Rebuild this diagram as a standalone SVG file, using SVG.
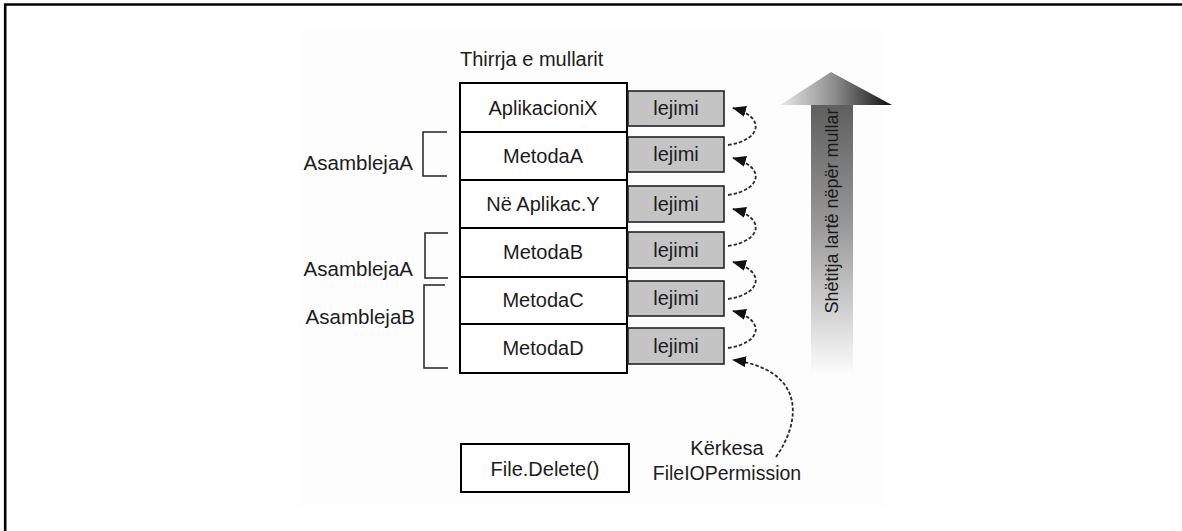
<svg xmlns="http://www.w3.org/2000/svg" width="1182" height="531" viewBox="0 0 1182 531">
  <defs>
    <style>
      text { font-family: "Liberation Sans", Arial, sans-serif; fill: #1c1c1c; }
      .lbl { font-size: 20px; text-anchor: middle; }
      .side { font-size: 20.5px; text-anchor: end; }
      .frame { fill: #fff; stroke: #000; stroke-width: 2; }
      .perm { fill: #c4c4c4; stroke: #222; stroke-width: 1.6; }
      .brace { fill: none; stroke: #222; stroke-width: 1.5; }
      .hop { fill: none; stroke: #2a2a2a; stroke-width: 1.8; stroke-dasharray: 3.5 2; marker-end: url(#tip); }
    </style>
    <marker id="tip" markerUnits="userSpaceOnUse" markerWidth="14" markerHeight="11" viewBox="0 0 14 11" refX="13" refY="5.5" orient="auto">
      <path d="M0,0 L14,5.5 L0,11 z" fill="#111"/>
    </marker>
    <linearGradient id="headFill" x1="780" y1="0" x2="892" y2="0" gradientUnits="userSpaceOnUse">
      <stop offset="0" stop-color="#e8e8e8"/>
      <stop offset="0.5" stop-color="#8a8a8a"/>
      <stop offset="1" stop-color="#0e0e0e"/>
    </linearGradient>
    <linearGradient id="shaftFill" x1="0" y1="104" x2="0" y2="372" gradientUnits="userSpaceOnUse">
      <stop offset="0" stop-color="#5e5e5e"/>
      <stop offset="0.45" stop-color="#989898"/>
      <stop offset="0.8" stop-color="#d6d6d6"/>
      <stop offset="1" stop-color="#fbfbfb"/>
    </linearGradient>
  </defs>

  <rect width="1182" height="531" fill="#fff"/>
  <!-- page frame: top and left edges -->
  <path d="M5.2,531 V4.5 H1182" fill="none" stroke="#000" stroke-width="2.6"/>
  <!-- faint backdrop behind the figure -->
  <rect x="299" y="30" width="586" height="478" fill="#fdfdfd"/>

  <text x="460" y="66" style="font-size:20px">Thirrja e mullarit</text>

  <!-- call stack frames -->
  <g id="frame-aplikacionix">
    <rect class="frame" x="460" y="83" width="167" height="49"/>
    <text class="lbl" x="543" y="115">AplikacioniX</text>
  </g>
  <g id="frame-metodaa">
    <rect class="frame" x="460" y="132" width="167" height="48"/>
    <text class="lbl" x="543" y="163">MetodaA</text>
  </g>
  <g id="frame-aplikacy">
    <rect class="frame" x="460" y="180" width="167" height="48"/>
    <text class="lbl" x="543" y="211">Në Aplikac.Y</text>
  </g>
  <g id="frame-metodab">
    <rect class="frame" x="460" y="228" width="167" height="49"/>
    <text class="lbl" x="543" y="259">MetodaB</text>
  </g>
  <g id="frame-metodac">
    <rect class="frame" x="460" y="277" width="167" height="47"/>
    <text class="lbl" x="543" y="307">MetodaC</text>
  </g>
  <g id="frame-metodad">
    <rect class="frame" x="460" y="324" width="167" height="49"/>
    <text class="lbl" x="543" y="355">MetodaD</text>
  </g>

  <!-- permission slots -->
  <g id="perm-1"><rect class="perm" x="628" y="91" width="96" height="35"/><text class="lbl" x="676" y="115">lejimi</text></g>
  <g id="perm-2"><rect class="perm" x="628" y="137" width="96" height="35"/><text class="lbl" x="676" y="161">lejimi</text></g>
  <g id="perm-3"><rect class="perm" x="628" y="186" width="96" height="36"/><text class="lbl" x="676" y="211">lejimi</text></g>
  <g id="perm-4"><rect class="perm" x="628" y="232" width="96" height="36"/><text class="lbl" x="676" y="257">lejimi</text></g>
  <g id="perm-5"><rect class="perm" x="628" y="281" width="96" height="35"/><text class="lbl" x="676" y="305">lejimi</text></g>
  <g id="perm-6"><rect class="perm" x="628" y="328" width="96" height="36"/><text class="lbl" x="676" y="353">lejimi</text></g>

  <!-- assembly groupings -->
  <g id="asm-a1">
    <path class="brace" d="M447,132 H423 V176 H447"/>
    <text class="side" x="413" y="170">AsamblejaA</text>
  </g>
  <g id="asm-a2">
    <path class="brace" d="M448,233 H425 V278 H448"/>
    <text class="side" x="413" y="276">AsamblejaA</text>
  </g>
  <g id="asm-b">
    <path class="brace" d="M445,285 H424 V368 H448"/>
    <text class="side" x="415" y="324">AsamblejaB</text>
  </g>

  <g id="file-delete">
    <rect class="frame" x="461" y="444" width="168" height="48" stroke-width="1.8"/>
    <text class="lbl" x="545" y="476">File.Delete()</text>
  </g>

  <g id="demand-label">
    <text class="lbl" x="727" y="455">Kërkesa</text>
    <text class="lbl" x="727" y="480" style="font-size:19.5px">FileIOPermission</text>
  </g>

  <!-- stack walk direction -->
  <g id="walk-arrow">
    <rect x="811" y="104" width="42" height="268" fill="url(#shaftFill)"/>
    <polygon points="780,105 831,72 892,105" fill="url(#headFill)"/>
    <text transform="translate(838,211) rotate(-90)" style="font-size:18px;text-anchor:middle;fill:#1a1a1a">Shëtitja lartë nëpër mullar</text>
  </g>

  <!-- permission checks walking up the stack -->
  <g id="connectors">
    <path class="hop" d="M728,145 c34,-5 38,-28 5,-37"/>
    <path class="hop" d="M728,195 c34,-5 38,-28 5,-37"/>
    <path class="hop" d="M728,246 c34,-5 38,-28 5,-37"/>
    <path class="hop" d="M728,299 c34,-5 38,-28 5,-37"/>
    <path class="hop" d="M728,348 c34,-5 38,-28 5,-37"/>
    <path class="hop" d="M776,457 C802,420 805,370 733,360"/>
  </g>
</svg>
